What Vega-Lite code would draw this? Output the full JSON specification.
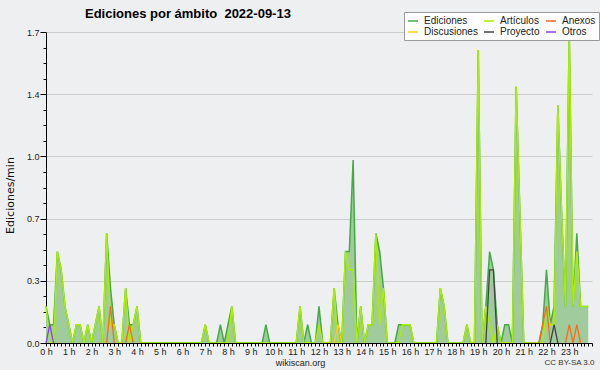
{
  "$schema": "https://vega.github.io/schema/vega-lite/v6.json",
  "width": 546,
  "height": 311,
  "autosize": "none",
  "padding": {"left": 46, "top": 32, "right": 8, "bottom": 27},
  "background": "#eeeff0",
  "title": {
    "text": "Ediciones por ámbito\u00a0 2022-09-13",
    "anchor": "start",
    "frame": "group",
    "dx": 39,
    "dy": 17,
    "offset": 8,
    "font": "Liberation Sans",
    "fontSize": 13,
    "fontWeight": "bold",
    "color": "#000000"
  },
  "datasets": {
    "main": [
      {"t":0,"ed":0.2,"art":0.2},{"t":10,"ed":0.1,"art":0},{"t":20,"ed":0.1,"art":0},{"t":30,"ed":0.5,"art":0.5},
      {"t":40,"ed":0.4,"art":0.4},{"t":50,"ed":0.2,"art":0.2},{"t":60,"ed":0.1,"art":0.1},{"t":70,"ed":0,"art":0},
      {"t":80,"ed":0.1,"art":0.1},{"t":90,"ed":0.1,"art":0.1},{"t":100,"ed":0,"art":0},{"t":110,"ed":0.1,"art":0.1},
      {"t":120,"ed":0,"art":0},{"t":130,"ed":0.1,"art":0.1},{"t":140,"ed":0.2,"art":0.2},{"t":150,"ed":0,"art":0},
      {"t":160,"ed":0.6,"art":0.6},{"t":170,"ed":0.3,"art":0.1},{"t":180,"ed":0.1,"art":0.1},{"t":190,"ed":0,"art":0},
      {"t":200,"ed":0,"art":0},{"t":210,"ed":0.3,"art":0.3},{"t":220,"ed":0.1,"art":0},{"t":230,"ed":0.1,"art":0.1},
      {"t":240,"ed":0.2,"art":0.2},{"t":250,"ed":0,"art":0},{"t":260,"ed":0,"art":0},{"t":270,"ed":0,"art":0},
      {"t":280,"ed":0,"art":0},{"t":290,"ed":0,"art":0},{"t":300,"ed":0,"art":0},{"t":310,"ed":0,"art":0},
      {"t":320,"ed":0,"art":0},{"t":330,"ed":0,"art":0},{"t":340,"ed":0,"art":0},{"t":350,"ed":0,"art":0},
      {"t":360,"ed":0,"art":0},{"t":370,"ed":0,"art":0},{"t":380,"ed":0,"art":0},{"t":390,"ed":0,"art":0},
      {"t":400,"ed":0,"art":0},{"t":410,"ed":0,"art":0},{"t":420,"ed":0.1,"art":0.1},{"t":430,"ed":0,"art":0},
      {"t":440,"ed":0,"art":0},{"t":450,"ed":0,"art":0},{"t":460,"ed":0.1,"art":0},{"t":470,"ed":0,"art":0},
      {"t":480,"ed":0.1,"art":0},{"t":490,"ed":0.2,"art":0.2},{"t":500,"ed":0,"art":0},{"t":510,"ed":0,"art":0},
      {"t":520,"ed":0,"art":0},{"t":530,"ed":0,"art":0},{"t":540,"ed":0,"art":0},{"t":550,"ed":0,"art":0},
      {"t":560,"ed":0,"art":0},{"t":570,"ed":0,"art":0},{"t":580,"ed":0.1,"art":0},{"t":590,"ed":0,"art":0},
      {"t":600,"ed":0,"art":0},{"t":610,"ed":0,"art":0},{"t":620,"ed":0,"art":0},{"t":630,"ed":0,"art":0},
      {"t":640,"ed":0,"art":0},{"t":650,"ed":0,"art":0},{"t":660,"ed":0,"art":0},{"t":670,"ed":0.2,"art":0.2},
      {"t":680,"ed":0,"art":0},{"t":690,"ed":0.1,"art":0},{"t":700,"ed":0,"art":0},{"t":710,"ed":0,"art":0},
      {"t":720,"ed":0.2,"art":0.1},{"t":730,"ed":0,"art":0},{"t":740,"ed":0,"art":0},{"t":750,"ed":0,"art":0},
      {"t":760,"ed":0.3,"art":0.3},{"t":770,"ed":0.1,"art":0},{"t":780,"ed":0,"art":0},{"t":790,"ed":0.5,"art":0.5},
      {"t":800,"ed":0.5,"art":0.4},{"t":810,"ed":1.0,"art":0.4},{"t":820,"ed":0,"art":0},{"t":830,"ed":0.2,"art":0.2},
      {"t":840,"ed":0,"art":0},{"t":850,"ed":0.1,"art":0.1},{"t":860,"ed":0.1,"art":0.1},{"t":870,"ed":0.6,"art":0.6},
      {"t":880,"ed":0.5,"art":0.1},{"t":890,"ed":0.3,"art":0.3},{"t":900,"ed":0,"art":0},{"t":910,"ed":0,"art":0},
      {"t":920,"ed":0,"art":0},{"t":930,"ed":0.1,"art":0},{"t":940,"ed":0.1,"art":0.1},{"t":950,"ed":0.1,"art":0.1},
      {"t":960,"ed":0.1,"art":0.1},{"t":970,"ed":0,"art":0},{"t":980,"ed":0,"art":0},{"t":990,"ed":0,"art":0},
      {"t":1000,"ed":0,"art":0},{"t":1010,"ed":0,"art":0},{"t":1020,"ed":0,"art":0},{"t":1030,"ed":0,"art":0},
      {"t":1040,"ed":0.3,"art":0.3},{"t":1050,"ed":0.2,"art":0.2},{"t":1060,"ed":0,"art":0},{"t":1070,"ed":0,"art":0},
      {"t":1080,"ed":0,"art":0},{"t":1090,"ed":0,"art":0},{"t":1100,"ed":0,"art":0},{"t":1110,"ed":0.1,"art":0.1},
      {"t":1120,"ed":0,"art":0},{"t":1130,"ed":0,"art":0},{"t":1140,"ed":1.6,"art":1.6},{"t":1150,"ed":0,"art":0},
      {"t":1160,"ed":0.2,"art":0.2},{"t":1170,"ed":0.5,"art":0.1},{"t":1180,"ed":0.4,"art":0},{"t":1190,"ed":0.1,"art":0.1},
      {"t":1200,"ed":0,"art":0},{"t":1210,"ed":0.1,"art":0},{"t":1220,"ed":0.1,"art":0},{"t":1230,"ed":0,"art":0},
      {"t":1240,"ed":1.4,"art":1.4},{"t":1250,"ed":0.7,"art":0.7},{"t":1260,"ed":0,"art":0},{"t":1270,"ed":0,"art":0},
      {"t":1280,"ed":0,"art":0},{"t":1290,"ed":0,"art":0},{"t":1300,"ed":0,"art":0},{"t":1310,"ed":0.1,"art":0},
      {"t":1320,"ed":0.4,"art":0.2},{"t":1330,"ed":0.1,"art":0.1},{"t":1340,"ed":0.2,"art":0.1},{"t":1350,"ed":1.3,"art":1.3},
      {"t":1360,"ed":0.7,"art":0.7},{"t":1370,"ed":0.2,"art":0.2},{"t":1380,"ed":1.7,"art":1.7},{"t":1390,"ed":0.2,"art":0.2},
      {"t":1400,"ed":0.6,"art":0.5},{"t":1410,"ed":0.2,"art":0.2},{"t":1420,"ed":0.2,"art":0.2},{"t":1430,"ed":0.2,"art":0.2}
    ],
    "minor": [
      {"t":160,"s":"Anexos","v":0,"g":1},{"t":170,"s":"Anexos","v":0.2,"g":1},{"t":180,"s":"Anexos","v":0,"g":1},
      {"t":210,"s":"Anexos","v":0,"g":2},{"t":220,"s":"Anexos","v":0.1,"g":2},{"t":230,"s":"Anexos","v":0,"g":2},
      {"t":1300,"s":"Anexos","v":0,"g":3},{"t":1310,"s":"Anexos","v":0.1,"g":3},{"t":1320,"s":"Anexos","v":0.2,"g":3},{"t":1330,"s":"Anexos","v":0,"g":3},
      {"t":1370,"s":"Anexos","v":0,"g":4},{"t":1380,"s":"Anexos","v":0.1,"g":4},{"t":1390,"s":"Anexos","v":0,"g":4},{"t":1400,"s":"Anexos","v":0.1,"g":4},{"t":1410,"s":"Anexos","v":0,"g":4},
      {"t":760,"s":"Discusiones","v":0,"g":5},{"t":770,"s":"Discusiones","v":0.1,"g":5},{"t":780,"s":"Discusiones","v":0,"g":5},
      {"t":1160,"s":"Proyecto","v":0,"g":6},{"t":1170,"s":"Proyecto","v":0.4,"g":6},{"t":1180,"s":"Proyecto","v":0.4,"g":6},{"t":1190,"s":"Proyecto","v":0,"g":6},
      {"t":1330,"s":"Proyecto","v":0,"g":7},{"t":1340,"s":"Proyecto","v":0.1,"g":7},{"t":1350,"s":"Proyecto","v":0,"g":7},
      {"t":0,"s":"Otros","v":0,"g":8},{"t":10,"s":"Otros","v":0.1,"g":8},{"t":20,"s":"Otros","v":0,"g":8}
    ]
  },
  "resolve": {"axis": {"x": "independent", "y": "independent"}},
  "layer": [
    {
      "data": {"name": "main"},
      "mark": {"type": "area", "color": "#9fcb9d", "interpolate": "linear"},
      "encoding": {
        "x": {
          "field": "t", "type": "quantitative",
          "scale": {"domain": [0, 1440], "nice": false, "zero": false},
          "axis": {
            "orient": "bottom",
            "zindex": 1,
            "values": [0,10,20,30,40,50,60,70,80,90,100,110,120,130,140,150,160,170,180,190,200,210,220,230,240,250,260,270,280,290,300,310,320,330,340,350,360,370,380,390,400,410,420,430,440,450,460,470,480,490,500,510,520,530,540,550,560,570,580,590,600,610,620,630,640,650,660,670,680,690,700,710,720,730,740,750,760,770,780,790,800,810,820,830,840,850,860,870,880,890,900,910,920,930,940,950,960,970,980,990,1000,1010,1020,1030,1040,1050,1060,1070,1080,1090,1100,1110,1120,1130,1140,1150,1160,1170,1180,1190,1200,1210,1220,1230,1240,1250,1260,1270,1280,1290,1300,1310,1320,1330,1340,1350,1360,1370,1380,1390,1400,1410,1420,1430,1440],
            "labelExpr": "datum.value % 60 == 0 && datum.value < 1440 ? (datum.value / 60) + ' h' : ''",
            "labelOverlap": false,
            "labelFlush": false,
            "labelBound": false,
            "tickSize": 3,
            "labelPadding": 1,
            "grid": false,
            "domainColor": "#000000",
            "tickColor": "#000000",
            "title": "wikiscan.org",
            "titleFont": "Liberation Sans",
            "titleFontSize": 9,
            "titleFontWeight": "normal",
            "titleColor": "#222222",
            "titleX": 254,
            "titleY": 19,
            "titleAlign": "center",
            "titleBaseline": "middle"
          }
        },
        "y": {
          "field": "ed", "type": "quantitative",
          "scale": {"domain": [0, 1.7], "nice": false, "zero": true},
          "axis": {
            "orient": "left",
            "values": [0,0.34,0.68,1.02,1.36,1.7],
            "format": ".1f",
            "labelOverlap": false,
            "labelFlush": false,
            "labelBound": false,
            "labelPadding": 1,
            "tickSize": 6,
            "grid": true,
            "gridColor": "#cccccc",
            "gridOpacity": {"condition": {"test": "datum.value > 0", "value": 1}, "value": 0},
            "domainColor": "#000000",
            "tickColor": "#000000",
            "title": "Ediciones/min",
            "titleFont": "DejaVu Sans",
            "titleFontSize": 11,
            "titleFontWeight": "normal",
            "titleColor": "#111111",
            "titleX": -36,
            "titleY": 163,
            "titleAlign": "center",
            "titleBaseline": "middle",
            "titleAngle": 270
          }
        }
      }
    },
    {
      "data": {"name": "main"},
      "mark": {"type": "line", "strokeWidth": 1.5, "interpolate": "linear"},
      "encoding": {
        "x": {"field": "t", "type": "quantitative", "axis": null},
        "y": {"field": "ed", "type": "quantitative", "axis": null},
        "color": {
          "datum": "Ediciones", "type": "nominal",
          "scale": {
            "domain": ["Ediciones", "Artículos", "Anexos", "Discusiones", "Proyecto", "Otros"],
            "range": ["#44aa44", "#aaee00", "#ff6a1a", "#ffcc22", "#444444", "#8844ee"]
          },
          "legend": {
            "orient": "none", "legendX": 358, "legendY": -20, "columns": 3, "direction": "horizontal", "title": null,
            "fillColor": "#ffffff", "strokeColor": "#999999", "padding": 3,
            "labelFont": "Liberation Sans", "labelFontSize": 10, "labelColor": "#222222",
            "symbolType": "stroke", "symbolSize": 100, "symbolStrokeWidth": 1.5,
            "labelOffset": 5, "columnPadding": 3, "rowPadding": 0
          }
        }
      }
    },
    {
      "data": {"name": "main"},
      "mark": {"type": "line", "strokeWidth": 1.5, "interpolate": "linear"},
      "encoding": {
        "x": {"field": "t", "type": "quantitative", "axis": null},
        "y": {"field": "art", "type": "quantitative", "axis": null},
        "color": {"datum": "Artículos", "type": "nominal"}
      }
    },
    {
      "data": {"name": "minor"},
      "mark": {"type": "line", "strokeWidth": 1.3, "interpolate": "linear"},
      "encoding": {
        "x": {
          "field": "t", "type": "quantitative",
          "axis": {
            "orient": "bottom", "labels": false, "ticks": false, "domain": false, "grid": false,
            "title": "CC BY-SA 3.0", "titleFont": "Liberation Sans", "titleFontSize": 8,
            "titleFontWeight": "normal", "titleColor": "#333333",
            "titleX": 523, "titleY": 19, "titleAlign": "center", "titleBaseline": "middle"
          }
        },
        "y": {
          "field": "v", "type": "quantitative",
          "axis": {
            "orient": "left",
            "values": [0.085,0.17,0.255,0.425,0.51,0.595,0.765,0.85,0.935,1.105,1.19,1.275,1.445,1.53,1.615],
            "labels": false, "domain": false, "grid": false, "title": null,
            "tickSize": 3, "tickColor": "#000000"
          }
        },
        "color": {"field": "s", "type": "nominal", "legend": {"title": null}},
        "detail": {"field": "g", "type": "nominal"}
      }
    }
  ],
  "config": {
    "view": {"stroke": null, "fill": "#eeeff0"},
    "axis": {"labelFont": "Liberation Sans", "labelFontSize": 9, "labelColor": "#222222"}
  }
}
